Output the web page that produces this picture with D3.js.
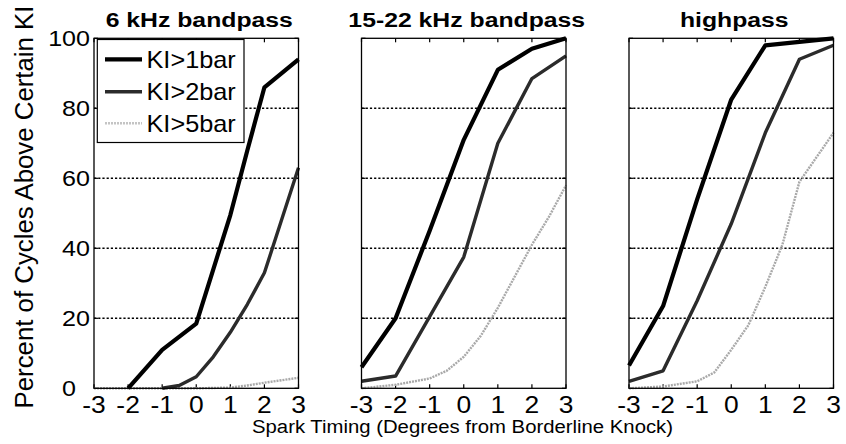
<!DOCTYPE html>
<html>
<head>
<meta charset="utf-8">
<script src="https://cdn.jsdelivr.net/npm/d3@7/dist/d3.min.js"></script>
<style>
  html, body { margin: 0; padding: 0; background: #fff; }
  svg { display: block; font-family: "Liberation Sans", Arial, sans-serif; }
</style>
</head>
<body>
<svg id="chart" width="846" height="444"></svg>
<script>
// ---------------- DATA ----------------
const xTicks = [-3, -2, -1, 0, 1, 2, 3];
const yTicks = [0, 20, 40, 60, 80, 100];
const gridValues = [20, 40, 60, 80];
const panelTitles = ["6 kHz bandpass", "15-22 kHz bandpass", "highpass"];
const seriesNames = ["KI>1bar", "KI>2bar", "KI>5bar"];
const yLabel = "Percent of Cycles Above Certain KI";
const xLabel = "Spark Timing (Degrees from Borderline Knock)";

// 6 kHz bandpass
const bp6_ki1_x = [-2, -1, 0, 0.5, 1, 1.5, 2, 3];
const bp6_ki1_y = [0, 11, 18.5, 34, 49.5, 68, 86, 94];
const bp6_ki2_x = [-1, -0.5, 0, 0.5, 1, 1.5, 2, 2.5, 3];
const bp6_ki2_y = [0, 0.8, 3.3, 9, 16, 24, 33, 48, 63];
const bp6_ki5_x = [-3, -2, -1, 0, 1, 1.5, 2, 2.5, 3];
const bp6_ki5_y = [0, 0, 0, 0, 0.2, 0.8, 1.6, 2.3, 3];

// 15-22 kHz bandpass
const bp15_ki1_x = [-3, -2, -1, 0, 1, 2, 3];
const bp15_ki1_y = [6, 20, 45, 71, 91, 97, 100];
const bp15_ki2_x = [-3, -2, -1, 0, 1, 2, 3];
const bp15_ki2_y = [2, 3.5, 20.5, 37.5, 70, 88.5, 95];
const bp15_ki5_x = [-3, -2, -1, -0.5, 0, 0.5, 1, 1.5, 2, 2.5, 3];
const bp15_ki5_y = [0, 1, 2.8, 5, 9, 15, 23, 32, 41, 49, 58];

// highpass
const hp_ki1_x = [-3, -2, -1, 0, 1, 2, 3];
const hp_ki1_y = [6.5, 23.5, 54, 82.5, 98, 99, 100];
const hp_ki2_x = [-3, -2, -1, 0, 1, 2, 3];
const hp_ki2_y = [2, 5, 25, 47, 73, 94, 98];
const hp_ki5_x = [-3, -2, -1, -0.5, 0, 0.5, 1, 1.5, 2, 2.5, 3];
const hp_ki5_y = [0, 0.5, 2, 4.5, 11, 18, 29, 41, 59, 66, 73];

// ---------------- BUILD ----------------
const zip = (xs, ys) => xs.map((x, i) => ({ x: x, y: ys[i] }));
const panels = [
  { title: panelTitles[0], series: [zip(bp6_ki1_x, bp6_ki1_y), zip(bp6_ki2_x, bp6_ki2_y), zip(bp6_ki5_x, bp6_ki5_y)] },
  { title: panelTitles[1], series: [zip(bp15_ki1_x, bp15_ki1_y), zip(bp15_ki2_x, bp15_ki2_y), zip(bp15_ki5_x, bp15_ki5_y)] },
  { title: panelTitles[2], series: [zip(hp_ki1_x, hp_ki1_y), zip(hp_ki2_x, hp_ki2_y), zip(hp_ki5_x, hp_ki5_y)] }
];

const styles = [
  { stroke: "#000", width: 4.2, dash: null },
  { stroke: "#2b2b2b", width: 3.4, dash: null },
  { stroke: "#a9a9a9", width: 2.4, dash: "2,1" }
];

const svg = d3.select("#chart");
const plotTop = 38.3, plotBottom = 388.3;
const panelW = 204.5, gap = 63, left0 = 94;

const y = d3.scaleLinear().domain([0, 100]).range([plotBottom, plotTop]);

function stretchedText(g, x, yy, txt, size, sx, anchor, weight) {
  return g.append("text")
    .attr("transform", `translate(${x},${yy}) scale(${sx},1)`)
    .attr("text-anchor", anchor)
    .attr("font-size", size)
    .attr("font-weight", weight || "normal")
    .attr("fill", "#000")
    .text(txt);
}

panels.forEach((p, i) => {
  const x0 = left0 + i * (panelW + gap);
  const x = d3.scaleLinear().domain([-3, 3]).range([x0, x0 + panelW]);
  const g = svg.append("g");

  // gridlines
  g.selectAll("line.grid").data(gridValues).enter().append("line")
    .attr("x1", x(-3)).attr("x2", x(3))
    .attr("y1", d => y(d)).attr("y2", d => y(d))
    .attr("stroke", "#000").attr("stroke-width", 1.5)
    .attr("stroke-dasharray", "2.2,2");

  // inward ticks
  const tl = 4;
  g.selectAll("line.xt").data(xTicks).enter().append("line")
    .attr("x1", d => x(d)).attr("x2", d => x(d))
    .attr("y1", plotBottom).attr("y2", plotBottom - tl)
    .attr("stroke", "#000").attr("stroke-width", 1.2);
  g.selectAll("line.xt2").data(xTicks).enter().append("line")
    .attr("x1", d => x(d)).attr("x2", d => x(d))
    .attr("y1", plotTop).attr("y2", plotTop + tl)
    .attr("stroke", "#000").attr("stroke-width", 1.2);
  g.selectAll("line.yt").data(yTicks).enter().append("line")
    .attr("x1", x(-3)).attr("x2", x(-3) + tl)
    .attr("y1", d => y(d)).attr("y2", d => y(d))
    .attr("stroke", "#000").attr("stroke-width", 1.2);
  g.selectAll("line.yt2").data(yTicks).enter().append("line")
    .attr("x1", x(3)).attr("x2", x(3) - tl)
    .attr("y1", d => y(d)).attr("y2", d => y(d))
    .attr("stroke", "#000").attr("stroke-width", 1.2);

  // x tick labels
  xTicks.forEach(t => {
    stretchedText(g, x(t), 412.5, String(t), 24, 1.1, "middle");
  });

  // y tick labels only on first panel ("0" nudged left to clear the "-3" below)
  if (i === 0) {
    yTicks.forEach(t => {
      const nudge = t === 0 ? 14 : 0;
      stretchedText(g, x(-3) - 4 - nudge, y(t) + 8, String(t), 22, 1.14, "end");
    });
  }

  // title
  stretchedText(g, (x(-3) + x(3)) / 2 + 3, 27, p.title, 21, 1.18, "middle", "bold");

  // lines (light first)
  const line = d3.line().x(d => x(d.x)).y(d => y(d.y));
  [2, 1, 0].forEach(k => {
    g.append("path").datum(p.series[k])
      .attr("d", line)
      .attr("fill", "none")
      .attr("stroke", styles[k].stroke)
      .attr("stroke-width", styles[k].width)
      .attr("stroke-linejoin", "round")
      .attr("stroke-dasharray", styles[k].dash);
  });

  // box
  g.append("rect")
    .attr("x", x(-3)).attr("y", plotTop)
    .attr("width", x(3) - x(-3)).attr("height", plotBottom - plotTop)
    .attr("fill", "none").attr("stroke", "#000").attr("stroke-width", 1.3);

  // legend in first panel
  if (i === 0) {
    const lg = g.append("g");
    lg.append("rect")
      .attr("x", 97.3).attr("y", 39.5)
      .attr("width", 146.7).attr("height", 103)
      .attr("fill", "#fff").attr("stroke", "#000").attr("stroke-width", 1.2);
    const rowY = [59.3, 91.7, 123.3];
    seriesNames.forEach((name, k) => {
      lg.append("line")
        .attr("x1", 105).attr("x2", 142)
        .attr("y1", rowY[k]).attr("y2", rowY[k])
        .attr("stroke", k === 2 ? "#c4c4c4" : styles[k].stroke)
        .attr("stroke-width", styles[k].width)
        .attr("stroke-dasharray", styles[k].dash);
      stretchedText(lg, 146.5, rowY[k] + 8.3, name, 23, 1.1, "start");
    });
  }
});

// y axis label
svg.append("text")
  .attr("transform", `translate(33,207) rotate(-90)`)
  .attr("text-anchor", "middle")
  .attr("font-size", 25.8)
  .attr("fill", "#000")
  .text(yLabel);

// x axis label
stretchedText(svg, 462.5, 433, xLabel, 19, 1.07, "middle");
</script>
</body>
</html>
